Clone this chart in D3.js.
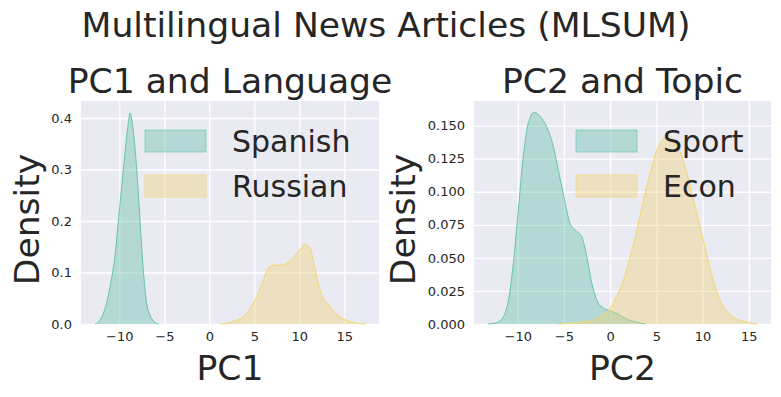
<!DOCTYPE html>
<html>
<head>
<meta charset="utf-8">
<script src="https://cdn.jsdelivr.net/npm/d3@7"></script>
<style>
  body { margin: 0; background: #fff; }
  text { font-family: "DejaVu Sans", sans-serif; fill: #262626; }
</style>
</head>
<body>
<script>
// ---- data (kde curves, x / density) ----
var spanishX = [-12.7, -12.3, -12.0, -11.5, -11.0, -10.5, -10.0, -9.5, -9.0, -8.8, -8.6, -8.2, -7.8, -7.4, -7.0, -6.6, -6.2, -5.6];
var spanishY = [0, 0.004, 0.012, 0.035, 0.075, 0.13, 0.22, 0.31, 0.39, 0.41, 0.395, 0.33, 0.23, 0.12, 0.045, 0.018, 0.006, 0];

var russianX = [1.2, 2.7, 4.15, 5.25, 6.0, 6.55, 7.1, 8.2, 9.3, 10.05, 10.6, 11.2, 11.7, 12.3, 13.4, 14.5, 15.6, 17.3];
var russianY = [0, 0.005, 0.021, 0.053, 0.085, 0.109, 0.114, 0.115, 0.128, 0.144, 0.155, 0.147, 0.111, 0.066, 0.034, 0.014, 0.005, 0];

var sportX = [-13.2, -12.3, -11.55, -11.0, -10.47, -10.0, -9.4, -8.85, -8.23, -7.58, -6.86, -6.14, -5.6, -5.0, -4.33, -3.6, -3.07, -2.53, -1.99, -1.44, -0.72, 0, 0.72, 1.44, 2.5, 3.8];
var sportY = [0, 0.001, 0.0055, 0.018, 0.046, 0.081, 0.1265, 0.152, 0.160, 0.157, 0.149, 0.134, 0.116, 0.096, 0.076, 0.070, 0.066, 0.051, 0.031, 0.018, 0.012, 0.010, 0.008, 0.005, 0.002, 0];

var econX = [-5.6, -3.6, -1.8, -0.72, 0, 0.72, 1.44, 2.17, 2.89, 3.61, 4.33, 5.05, 5.78, 6.3, 6.86, 7.58, 8.3, 9.0, 10.0, 10.83, 11.9, 13.0, 14.44, 15.9];
var econY = [0, 0.001, 0.003, 0.007, 0.012, 0.021, 0.033, 0.051, 0.071, 0.094, 0.114, 0.1315, 0.140, 0.143, 0.139, 0.130, 0.114, 0.094, 0.066, 0.041, 0.018, 0.007, 0.002, 0];

var xTicks = [-10, -5, 0, 5, 10, 15];
var leftYTicks = [0, 0.1, 0.2, 0.3, 0.4];
var rightYTicks = [0, 0.025, 0.05, 0.075, 0.1, 0.125, 0.15];

var suptitle = "Multilingual News Articles (MLSUM)";

var colors = {
    teal: { fill: "#62bdad", stroke: "#66c4ad", op: 0.4 },
    yellow: { fill: "#efd175", stroke: "#f7d66a", op: 0.4 }
};

var width = 781, height = 397;
var bigFont = "34.6px";

var svg = d3.select("body").append("svg")
    .attr("width", width)
    .attr("height", height);

svg.append("rect").attr("width", width).attr("height", height).attr("fill", "#fff");

svg.append("text")
    .attr("x", 386).attr("y", 37)
    .attr("text-anchor", "middle")
    .style("font-size", bigFont)
    .text(suptitle);

var panels = [
    {
        left: 81, right: 379, top: 101, bottom: 324,
        xDomain: [-14.26, 18.86], yDomain: [0, 0.433],
        yTicks: leftYTicks, yFmt: d3.format(".1f"),
        title: "PC1 and Language", xlabel: "PC1", ylabelX: 39,
        series: [
            { name: "Spanish", x: spanishX, y: spanishY, c: colors.teal },
            { name: "Russian", x: russianX, y: russianY, c: colors.yellow }
        ],
        legendX: 145, textX: 232
    },
    {
        left: 474, right: 771, top: 101, bottom: 324,
        xDomain: [-14.73, 17.4], yDomain: [0, 0.1686],
        yTicks: rightYTicks, yFmt: d3.format(".3f"),
        title: "PC2 and Topic", xlabel: "PC2", ylabelX: 415,
        series: [
            { name: "Sport", x: sportX, y: sportY, c: colors.teal },
            { name: "Econ", x: econX, y: econY, c: colors.yellow }
        ],
        legendX: 576, textX: 663
    }
];

panels.forEach(function(p) {
    var x = d3.scaleLinear().domain(p.xDomain).range([p.left, p.right]);
    var y = d3.scaleLinear().domain(p.yDomain).range([p.bottom, p.top]);

    var g = svg.append("g");

    g.append("rect")
        .attr("x", p.left).attr("y", p.top)
        .attr("width", p.right - p.left).attr("height", p.bottom - p.top)
        .attr("fill", "#eaeaf2");

    // grid + tick labels
    var xAxis = g.append("g")
        .attr("transform", "translate(0," + p.bottom + ")")
        .call(d3.axisBottom(x).tickValues(xTicks)
            .tickSize(-(p.bottom - p.top)).tickPadding(8)
            .tickFormat(function(d) { return d < 0 ? "\u2212" + Math.abs(d) : d; }));
    var yAxis = g.append("g")
        .attr("transform", "translate(" + p.left + ",0)")
        .call(d3.axisLeft(y).tickValues(p.yTicks)
            .tickSize(-(p.right - p.left)).tickPadding(9)
            .tickFormat(p.yFmt));

    [xAxis, yAxis].forEach(function(a) {
        a.select(".domain").remove();
        a.selectAll("line").attr("stroke", "#fff").attr("stroke-width", 1.3);
        a.selectAll("text").style("font-size", "13px").attr("fill", "#262626");
    });

    var area = d3.area()
        .curve(d3.curveMonotoneX)
        .x(function(d) { return x(d[0]); })
        .y0(y(0))
        .y1(function(d) { return y(d[1]); });
    var line = d3.line()
        .curve(d3.curveMonotoneX)
        .x(function(d) { return x(d[0]); })
        .y(function(d) { return y(d[1]); });

    p.series.forEach(function(s) {
        var pts = s.x.map(function(v, i) { return [v, s.y[i]]; });
        g.append("path").datum(pts)
            .attr("d", area)
            .attr("fill", s.c.fill)
            .attr("fill-opacity", s.c.op);
        g.append("path").datum(pts)
            .attr("d", line)
            .attr("fill", "none")
            .attr("stroke", s.c.stroke)
            .attr("stroke-width", 1);
    });

    // legend
    p.series.forEach(function(s, i) {
        var ly = 130 + i * 45;
        g.append("rect")
            .attr("x", p.legendX).attr("y", ly)
            .attr("width", 61).attr("height", 22)
            .attr("fill", s.c.fill).attr("fill-opacity", s.c.op)
            .attr("stroke", s.c.stroke).attr("stroke-opacity", 0.6)
            .attr("stroke-width", 1);
        g.append("text")
            .attr("x", p.textX).attr("y", ly + 22)
            .style("font-size", "30px")
            .text(s.name);
    });

    g.append("text")
        .attr("x", (p.left + p.right) / 2).attr("y", 93)
        .attr("text-anchor", "middle")
        .style("font-size", bigFont)
        .text(p.title);

    g.append("text")
        .attr("x", (p.left + p.right) / 2).attr("y", 380)
        .attr("text-anchor", "middle")
        .style("font-size", bigFont)
        .text(p.xlabel);

    g.append("text")
        .attr("transform", "translate(" + p.ylabelX + "," + ((p.top + p.bottom) / 2 + 7) + ") rotate(-90)")
        .attr("text-anchor", "middle")
        .style("font-size", bigFont)
        .text("Density");
});
</script>
</body>
</html>
